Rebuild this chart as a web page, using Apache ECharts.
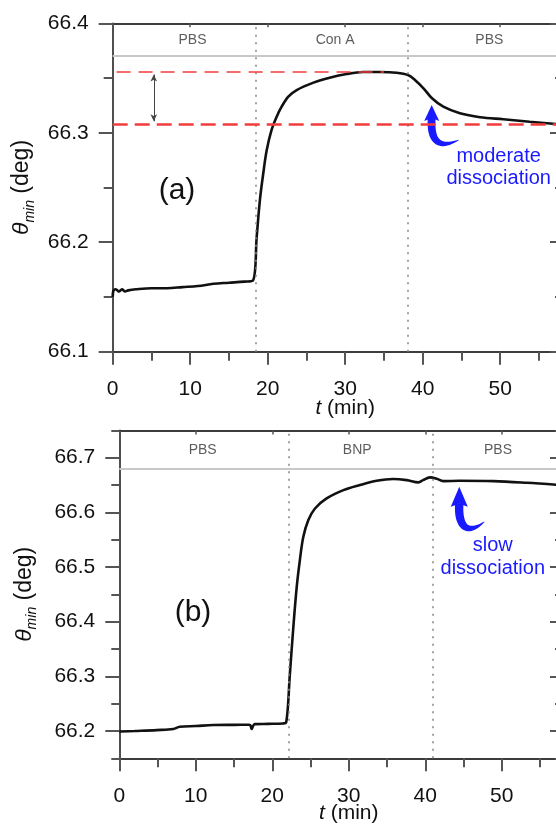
<!DOCTYPE html>
<html><head><meta charset="utf-8">
<script src="https://cdn.jsdelivr.net/npm/echarts@6/dist/echarts.min.js"></script>
<style>html,body{margin:0;padding:0;background:#fff}#c{width:556px;height:825px}</style>
</head><body><div id="c"></div>
<script>
// ---------- data ----------
const tA = [0, 0.1, 0.4, 0.8, 1.2, 1.6, 2.0, 3, 5, 7, 9, 11, 13, 15, 17, 18.1, 18.58, 19.0, 19.43, 19.87, 20.5, 21.16, 21.8, 22.66, 23.74, 25.9, 28.0, 30.2, 32.3, 34.5, 36.6, 38.1, 39.0, 40.1, 41.2, 42.66, 44.8, 47.4, 50.4, 53.8, 57.6];
const vA = [66.150, 66.156, 66.157, 66.155, 66.157, 66.155, 66.156, 66.157, 66.158, 66.158, 66.159, 66.160, 66.162, 66.163, 66.164, 66.165, 66.205, 66.239, 66.263, 66.284, 66.3026, 66.3147, 66.3238, 66.333, 66.339, 66.3458, 66.3503, 66.3537, 66.3555, 66.3555, 66.3549, 66.3528, 66.3482, 66.3406, 66.3315, 66.3238, 66.3178, 66.3142, 66.3123, 66.3101, 66.3078];
const tB = [0, 2, 4.9, 7.06, 7.9, 10, 12.3, 15, 16.9, 17.15, 17.3, 17.45, 17.7, 19.5, 21.4, 21.8, 22.3, 22.75, 23.19, 23.6, 24.05, 24.7, 25.58, 27.1, 29.3, 31.46, 33.65, 35.8, 37.57, 39.1, 39.7, 40.6, 41.5, 42.35, 44.5, 48.9, 53.25, 57.5];
const vB = [66.199, 66.200, 66.2016, 66.2035, 66.2077, 66.209, 66.2108, 66.2112, 66.2114, 66.210, 66.2035, 66.208, 66.2126, 66.213, 66.2138, 66.215, 66.3044, 66.39, 66.4633, 66.5123, 66.555, 66.5857, 66.6071, 66.6255, 66.6407, 66.65, 66.6578, 66.661, 66.659, 66.6549, 66.659, 66.664, 66.6615, 66.6572, 66.6578, 66.6572, 66.6541, 66.650];

const phaseNamesA = ['PBS', 'Con A', 'PBS'];
const phaseXA = [10.3, 28.7, 48.6];
const phaseYA = 66.3847;
const switchA = [18.4, 38.1];
const bufferLineA = 66.371;
const levelHighA = 66.3553;
const levelLowA = 66.308;
const deltaArrowA = [5.3, 66.3532, 66.3105];

const phaseNamesB = ['PBS', 'BNP', 'PBS'];
const phaseXB = [10.9, 31.1, 49.5];
const phaseYB = 66.714;
const switchB = [22.2, 41.0];
const bufferLineB = 66.683;

const noteA = { text: 'moderate\ndissociation', at: [49.8, 66.268], arrowTip: [41.16, 66.3254] };
const noteB = { text: 'slow\ndissociation', at: [48.82, 66.519], arrowTip: [44.44, 66.6468] };
const panelA = { text: '(a)', at: [8.3, 66.2469] };
const panelB = { text: '(b)', at: [9.63, 66.4169] };

// ---------- styling ----------
const FONT = 'Liberation Sans, Arial, sans-serif';
const AX = '#3c3c3c';
const TK = '#555';
const BLUE = '#1a1aff';
const RED = '#f23c3c';

function bottomX(grid, max, gap) {
  return {
    gridIndex: grid, type: 'value', position: 'bottom', min: 0, max: max, interval: 10,
    axisLine: { show: true, onZero: false, lineStyle: { color: AX, width: 1.8 } },
    axisTick: { show: true, length: 13, lineStyle: { color: TK, width: 2 } },
    minorTick: { show: true, splitNumber: 2, length: 9, lineStyle: { color: TK, width: 2 } },
    splitLine: { show: false }, minorSplitLine: { show: false },
    axisLabel: { margin: 27, fontSize: 21, color: '#111', fontFamily: FONT,
      formatter: v => (Math.abs(v % 10) < 1e-9 && v < 55 ? String(v) : '') },
    name: '{it|t} (min)', nameLocation: 'middle', nameGap: gap, nameMoveOverlap: false,
    nameTextStyle: { fontSize: 21, color: '#111', fontFamily: FONT,
      rich: { it: { fontStyle: 'italic', fontSize: 21, fontFamily: FONT, color: '#111' } } }
  };
}
function topX(grid, max) {
  return {
    gridIndex: grid, type: 'value', position: 'top', min: 0, max: max, interval: 10,
    axisLine: { show: true, onZero: false, lineStyle: { color: AX, width: 1.8 } },
    axisTick: { show: true, inside: true, length: 4, lineStyle: { color: TK, width: 1.5 } },
    axisLabel: { show: false }, splitLine: { show: false }
  };
}
function hiddenX(grid, max) {
  return { gridIndex: grid, type: 'value', min: 0, max: max, show: false, splitLine: { show: false } };
}
function yName(size, gap) {
  return {
    name: '{th|θ}{sub|min} (deg)', nameLocation: 'middle', nameGap: gap,
    nameTextStyle: { fontSize: size, color: '#111', fontFamily: FONT, lineHeight: 30,
      rich: {
        th: { fontStyle: 'italic', fontSize: size, fontFamily: FONT, color: '#111', lineHeight: 30 },
        sub: { fontStyle: 'italic', fontSize: Math.round(size * 0.62), fontFamily: FONT, color: '#111', verticalAlign: 'bottom', lineHeight: 16 }
      } }
  };
}

const option = {
  animation: false,
  backgroundColor: '#fff',
  grid: [
    { left: 112.7, top: 23.3, width: 465, height: 328.4, containLabel: false, outerBoundsMode: 'none' },
    { left: 119.3, top: 430.4, width: 459, height: 327.9, containLabel: false, outerBoundsMode: 'none' },
    { left: 119.3, top: 457.7, width: 459, height: 273.2, containLabel: false, outerBoundsMode: 'none' }
  ],
  xAxis: [
    bottomX(0, 60, 46), topX(0, 60),
    bottomX(1, 60, 44), topX(1, 60),
    hiddenX(2, 60)
  ],
  yAxis: [
    Object.assign({
      gridIndex: 0, type: 'value', position: 'left', min: 66.1, max: 66.4, interval: 0.1,
      axisLine: { show: true, onZero: false, lineStyle: { color: AX, width: 1.8 } },
      axisTick: { show: true, length: 14, lineStyle: { color: TK, width: 2 } },
      minorTick: { show: true, splitNumber: 2, length: 9, lineStyle: { color: TK, width: 2 } },
      splitLine: { show: false }, minorSplitLine: { show: false },
      axisLabel: { margin: 24, fontSize: 21, color: '#111', fontFamily: FONT, formatter: v => v.toFixed(1) }
    }, yName(23, 74)),
    {
      gridIndex: 0, type: 'value', position: 'right', offset: -18.7, min: 66.1, max: 66.4, interval: 0.1,
      axisLine: { show: true, onZero: false, lineStyle: { color: AX, width: 1.8 } },
      axisTick: { show: true, inside: true, length: 9, lineStyle: { color: TK, width: 2 } },
      minorTick: { show: true, splitNumber: 2, length: 4, lineStyle: { color: TK, width: 2 } },
      splitLine: { show: false }, axisLabel: { show: false }
    },
    {
      gridIndex: 1, type: 'value', position: 'left', min: 66.15, max: 66.75, interval: 0.05,
      axisLine: { show: true, onZero: false, lineStyle: { color: AX, width: 1.8 } },
      axisTick: { show: true, length: 8, lineStyle: { color: TK, width: 2 } },
      splitLine: { show: false }, axisLabel: { show: false }
    },
    {
      gridIndex: 1, type: 'value', position: 'right', offset: -19.3, min: 66.15, max: 66.75, interval: 0.05,
      axisLine: { show: true, onZero: false, lineStyle: { color: AX, width: 1.8 } },
      axisTick: { show: true, inside: true, length: 4, lineStyle: { color: TK, width: 2 } },
      splitLine: { show: false }, axisLabel: { show: false }
    },
    Object.assign({
      gridIndex: 2, type: 'value', position: 'left', min: 66.2, max: 66.7, interval: 0.1,
      axisLine: { show: false },
      axisTick: { show: true, length: 14, lineStyle: { color: TK, width: 2 } },
      splitLine: { show: false },
      axisLabel: { margin: 24, fontSize: 21, color: '#111', fontFamily: FONT, formatter: v => v.toFixed(1) }
    }, yName(23, 80)),
    {
      gridIndex: 2, type: 'value', position: 'right', offset: -19.3, min: 66.2, max: 66.7, interval: 0.1,
      axisLine: { show: false },
      axisTick: { show: true, inside: true, length: 9, lineStyle: { color: TK, width: 2 } },
      splitLine: { show: false }, axisLabel: { show: false }
    }
  ],
  series: [
    {
      type: 'line', xAxisIndex: 0, yAxisIndex: 0, showSymbol: false, symbol: 'none',
      smooth: 0.35,
      data: tA.map((t, i) => [t, vA[i]]),
      lineStyle: { color: '#111', width: 2.6 }, z: 3,
      markLine: {
        silent: true, symbol: ['none', 'none'], label: { show: false },
        data: [
          ...switchA.map(x => ({ xAxis: x, lineStyle: { type: [2, 5.5], color: '#8a8a8a', width: 1.6 } })),
          { yAxis: bufferLineA, lineStyle: { type: 'solid', color: '#c8c8c8', width: 2 } },
          [{ coord: [0.5, levelHighA], lineStyle: { type: [14, 8], color: RED, width: 1.6 } }, { coord: [35, levelHighA] }],
          [{ coord: [0, levelLowA], lineStyle: { type: [15, 7], color: RED, width: 2.6 } }, { coord: [60, levelLowA] }],
          [{ coord: [deltaArrowA[0], deltaArrowA[1]], symbol: 'arrow', symbolSize: [5, 7], lineStyle: { type: 'solid', color: '#444', width: 1 } },
           { coord: [deltaArrowA[0], deltaArrowA[2]], symbol: 'arrow', symbolSize: [5, 7] }]
        ]
      }
    },
    {
      type: 'scatter', xAxisIndex: 0, yAxisIndex: 0, symbolSize: 1, silent: true,
      itemStyle: { color: 'rgba(0,0,0,0)' },
      data: phaseNamesA.map((n, i) => [phaseXA[i], phaseYA, n]),
      label: { show: true, position: 'inside', formatter: p => p.data[2], fontSize: 14, color: '#333', fontFamily: FONT }
    },
    {
      type: 'line', xAxisIndex: 2, yAxisIndex: 2, showSymbol: false, symbol: 'none',
      smooth: 0.35,
      data: tB.map((t, i) => [t, vB[i]]),
      lineStyle: { color: '#111', width: 2.6 }, z: 3,
      markLine: {
        silent: true, symbol: ['none', 'none'], label: { show: false },
        data: [
          ...switchB.map(x => ({ xAxis: x, lineStyle: { type: [2, 5.5], color: '#8a8a8a', width: 1.6 } })),
          { yAxis: bufferLineB, lineStyle: { type: 'solid', color: '#c8c8c8', width: 2 } }
        ]
      }
    },
    {
      type: 'scatter', xAxisIndex: 2, yAxisIndex: 2, symbolSize: 1, silent: true,
      itemStyle: { color: 'rgba(0,0,0,0)' },
      data: phaseNamesB.map((n, i) => [phaseXB[i], phaseYB, n]),
      label: { show: true, position: 'inside', formatter: p => p.data[2], fontSize: 14, color: '#333', fontFamily: FONT }
    }
  ]
};

const chart = echarts.init(document.getElementById('c'), null, { renderer: 'canvas' });
chart.setOption(option);

// ---------- annotations anchored in data coordinates ----------
function bez(P, s) {
  const u = 1 - s;
  return [u*u*u*P[0][0] + 3*u*u*s*P[1][0] + 3*u*s*s*P[2][0] + s*s*s*P[3][0],
          u*u*u*P[0][1] + 3*u*u*s*P[1][1] + 3*u*s*s*P[2][1] + s*s*s*P[3][1]];
}
function bezD(P, s) {
  const u = 1 - s;
  return [3*u*u*(P[1][0]-P[0][0]) + 6*u*s*(P[2][0]-P[1][0]) + 3*s*s*(P[3][0]-P[2][0]),
          3*u*u*(P[1][1]-P[0][1]) + 6*u*s*(P[2][1]-P[1][1]) + 3*s*s*(P[3][1]-P[2][1])];
}
function curlyArrow(tip, hw, depth, P, wMax) {
  const L = [], R = [];
  const N = 24;
  for (let i = 0; i <= N; i++) {
    const s = i / N;
    const b = bez(P, s), d = bezD(P, s);
    const len = Math.hypot(d[0], d[1]) || 1;
    const nx = -d[1] / len, ny = d[0] / len;
    const w = wMax * (1 - Math.pow(s, 2.5)) + 0.3;
    L.push([tip[0] + b[0] + nx * w, tip[1] + b[1] + ny * w]);
    R.push([tip[0] + b[0] - nx * w, tip[1] + b[1] - ny * w]);
  }
  return [
    { type: 'polygon', silent: true, shape: { points: L.concat(R.reverse()) }, style: { fill: BLUE } },
    { type: 'polygon', silent: true, shape: { points: [[tip[0], tip[1]], [tip[0] - hw, tip[1] + depth], [tip[0], tip[1] + depth - 3], [tip[0] + hw, tip[1] + depth]] }, style: { fill: BLUE } }
  ];
}
function textAt(grid, note, size, lh, color) {
  const p = chart.convertToPixel({ gridIndex: grid }, note.at);
  return { type: 'text', silent: true, x: p[0], y: p[1],
    style: { text: note.text, fontSize: size, fontFamily: FONT, fill: color, align: 'center', verticalAlign: 'middle', lineHeight: lh } };
}

const tipA = chart.convertToPixel({ gridIndex: 0 }, noteA.arrowTip);
const tipB = chart.convertToPixel({ gridIndex: 2 }, noteB.arrowTip);
const graphics = [
  ...curlyArrow(tipA, 7.5, 16, [[0, 13], [-1.5, 35], [6, 45], [27, 35]], 3.6),
  ...curlyArrow(tipB, 8.5, 20, [[0, 17], [-1.5, 40], [8, 49], [25, 35]], 3.9),
  textAt(0, noteA, 20, 22, BLUE),
  textAt(2, noteB, 20, 23, BLUE),
  textAt(0, panelA, 30, 32, '#111'),
  textAt(2, panelB, 30, 32, '#111')
];
chart.setOption({ graphic: graphics });
</script>
</body></html>
